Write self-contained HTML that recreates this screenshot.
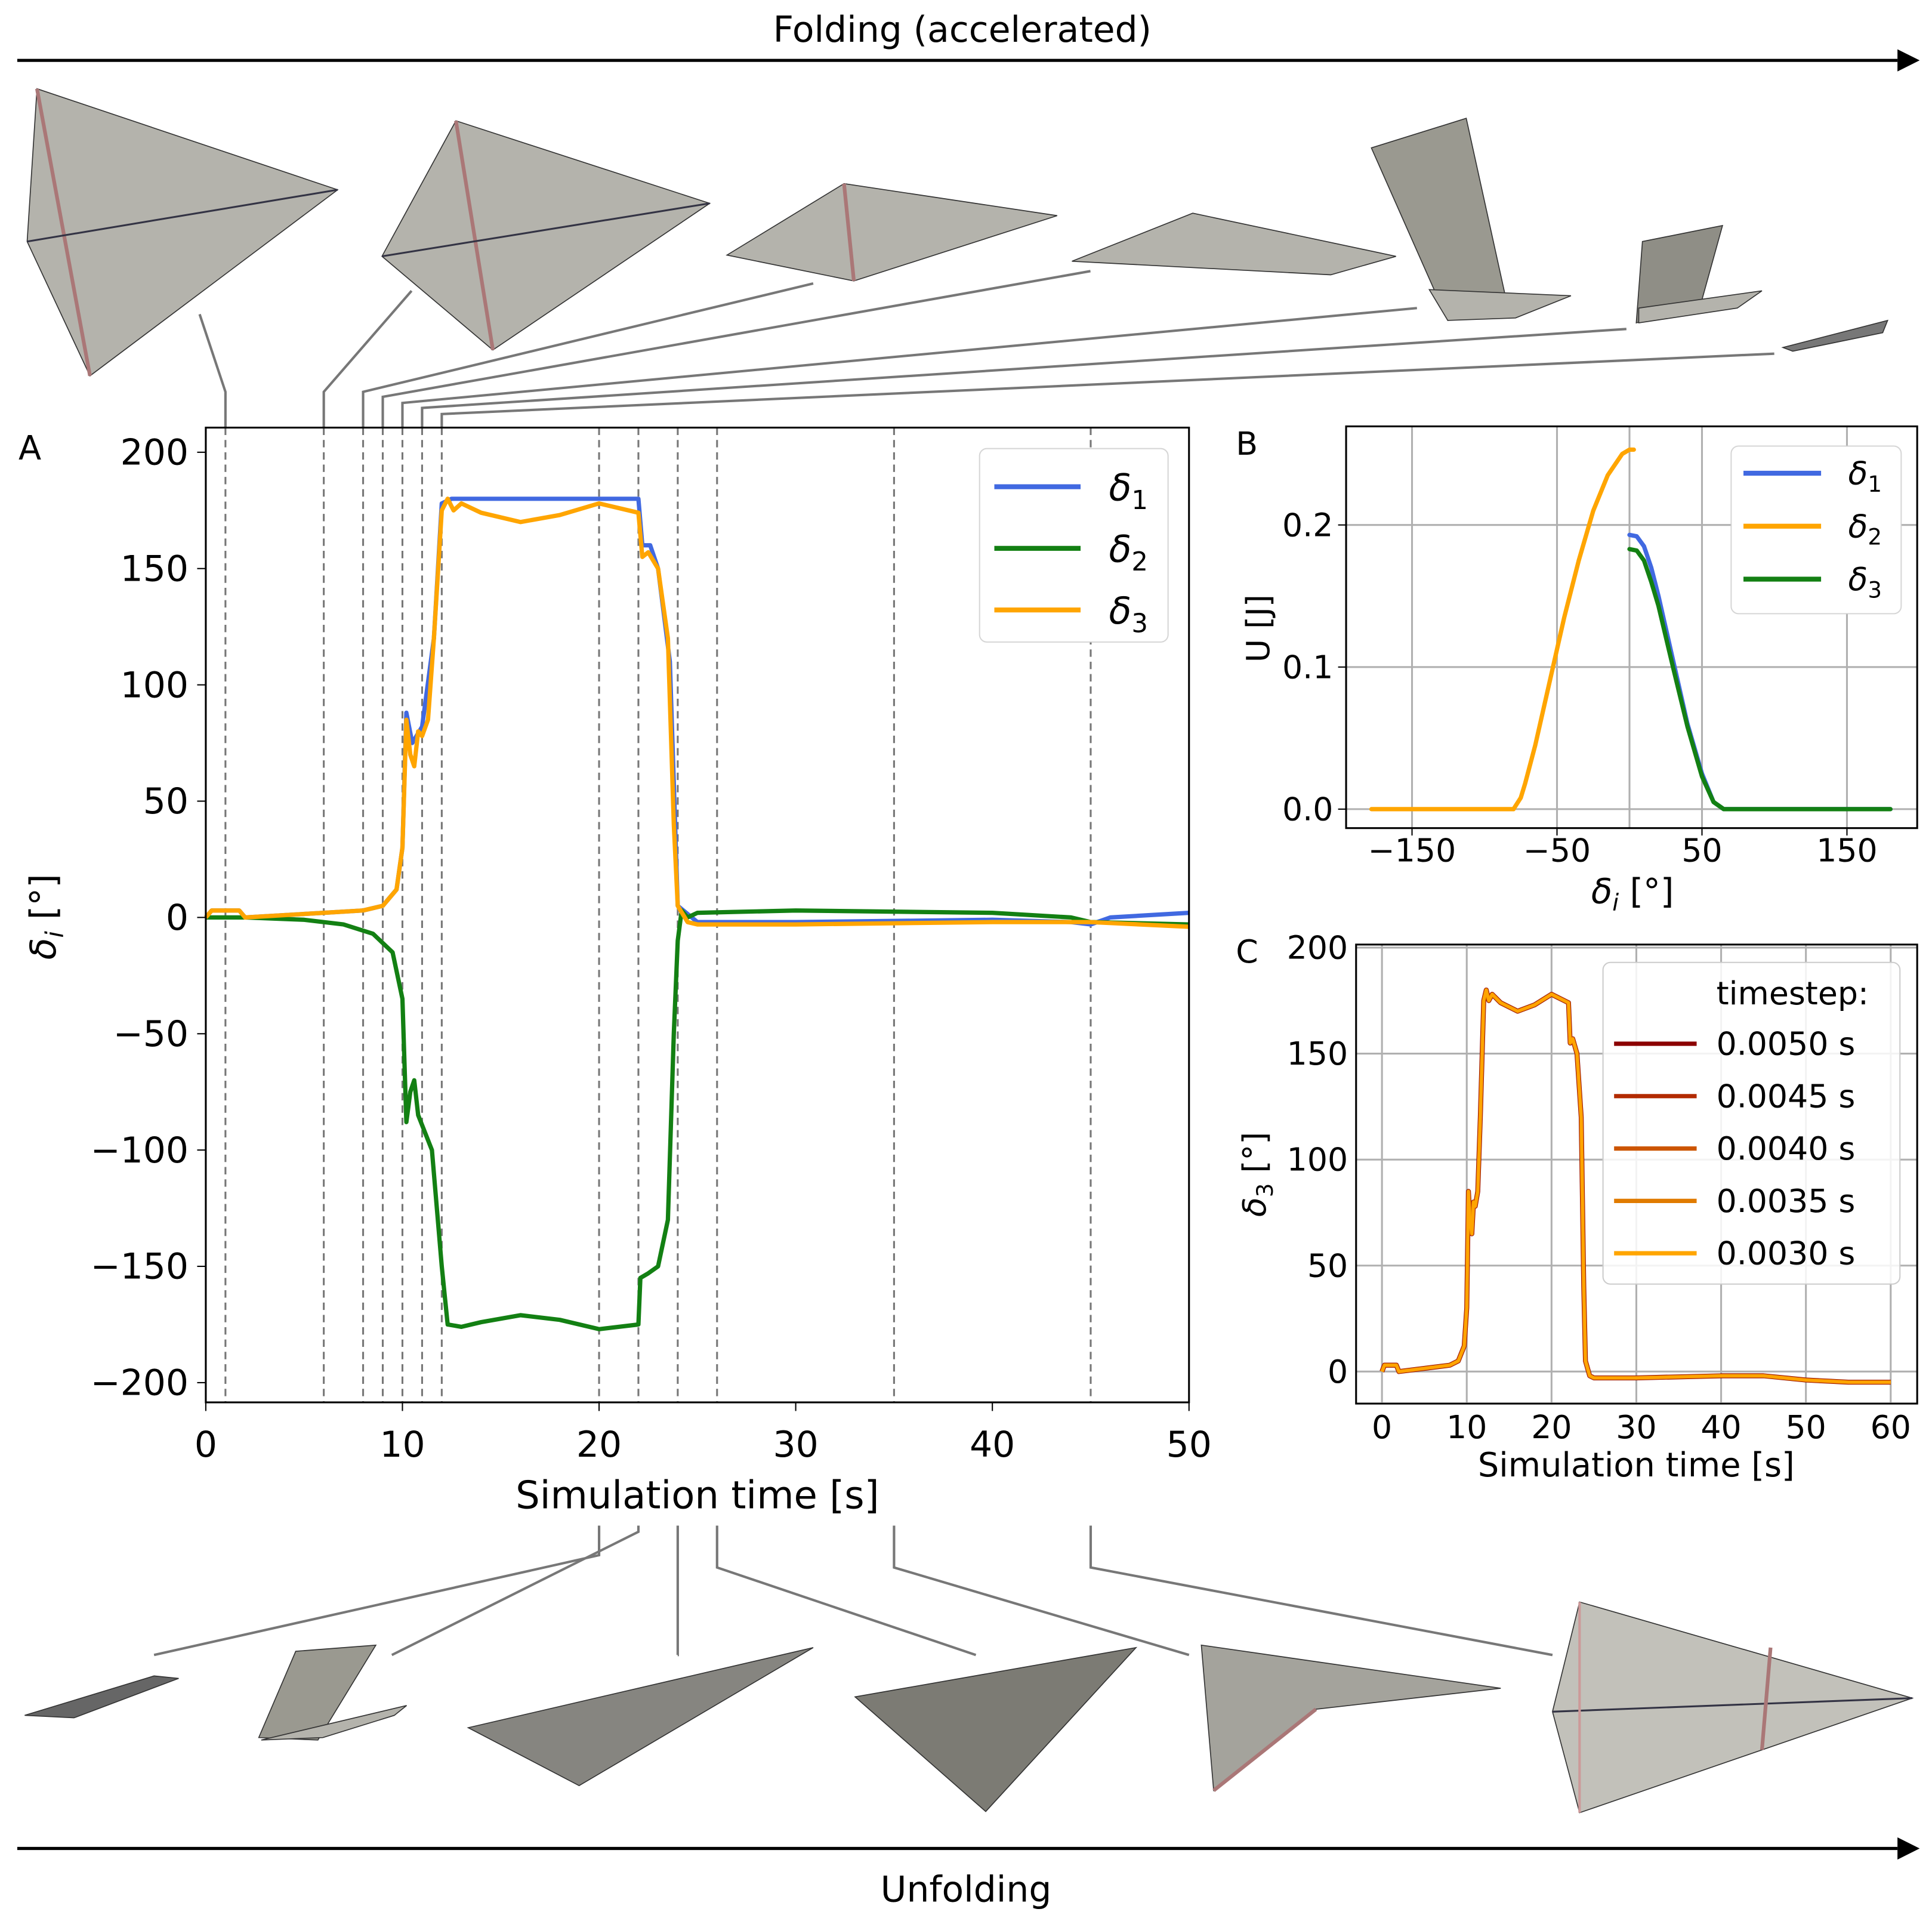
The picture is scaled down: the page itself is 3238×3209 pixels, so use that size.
<!DOCTYPE html>
<html><head><meta charset="utf-8"><style>
html,body{margin:0;padding:0;background:#fff;}
svg{display:block;font-family:"DejaVu Sans","Liberation Sans",sans-serif;}
</style></head><body>
<svg id="fig" width="3238" height="3209" viewBox="0 0 1568 1554" xmlns="http://www.w3.org/2000/svg">
<g>
<line x1="14" y1="49" x2="1540" y2="49" stroke="#000" stroke-width="2.5"/>
<polygon points="1540,40 1558,49 1540,58" fill="#000"/>
<text x="781" y="34" font-size="29" text-anchor="middle">Folding (accelerated)</text>
</g>
<g>
<line x1="14" y1="1500" x2="1540" y2="1500" stroke="#000" stroke-width="2.5"/>
<polygon points="1540,1491 1558,1500 1540,1509" fill="#000"/>
<text x="784" y="1543" font-size="29" text-anchor="middle">Unfolding</text>
</g>
<g id="illus" fill="#b4b3ac" stroke="#333" stroke-width="0.8">
<polygon points="30,72 274,154 73,305 22,196"/>
<line x1="30" y1="72" x2="73" y2="305" stroke="#a77" stroke-width="3"/>
<line x1="22" y1="196" x2="274" y2="154" stroke="#334" stroke-width="1.5"/>
<polygon points="370,98 576,165 400,284 310,208"/>
<line x1="370" y1="98" x2="400" y2="284" stroke="#a77" stroke-width="3"/>
<line x1="310" y1="208" x2="576" y2="165" stroke="#334" stroke-width="1.5"/>
<polygon points="685,149 858,175 693,228 590,207"/>
<line x1="685" y1="149" x2="693" y2="228" stroke="#a77" stroke-width="3"/>
<polygon points="968,173 1133,208 1080,223 870,212"/>
<polygon points="1113,120 1190,96 1225,255 1175,260" fill="#9a9990"/>
<polygon points="1160,235 1275,240 1230,258 1175,260"/>
<polygon points="1333,196 1398,183 1380,248 1328,262" fill="#8f8e86"/>
<polygon points="1330,250 1430,236 1410,250 1330,262"/>
<polygon points="1447,282 1532,260 1528,270 1455,285" fill="#777"/>
<polygon points="20,1392 125,1360 145,1362 60,1394" fill="#666"/>
<polygon points="210,1410 240,1340 305,1335 258,1412" fill="#9a9990"/>
<polygon points="212,1412 330,1384 320,1392 262,1410"/>
<polygon points="380,1402 660,1337 470,1449" fill="#868580"/>
<polygon points="694,1377 922,1337 800,1470" fill="#7c7b74"/>
<polygon points="975,1335 1218,1370 1068,1387 985,1453" fill="#a4a39c"/>
<line x1="985" y1="1453" x2="1068" y2="1387" stroke="#a77" stroke-width="3"/>
<polygon points="1282,1300 1552,1378 1282,1471 1260,1389" fill="#c2c1ba"/>
<line x1="1260" y1="1389" x2="1552" y2="1378" stroke="#334" stroke-width="1.5"/>
<line x1="1282" y1="1300" x2="1282" y2="1471" stroke="#c99" stroke-width="2"/>
<line x1="1437" y1="1337" x2="1430" y2="1420" stroke="#a77" stroke-width="3"/>
</g>
<g id="connectors" fill="none" stroke="#777" stroke-width="2"></g>
<g id="panelA"></g>
<g id="panelB"></g>
<g id="panelC"></g>
</svg>
<script>
// ---- Panel A data ----
const tA1 = [0,0.3,1.7,2,6,8,9,9.7,10,10.2,10.5,11,11.6,12,12.5,14,20,22,22.2,22.6,23,23.6,24,25,30,40,44,45,46,50];
const d1  = [0,3,3,0,2,3,5,12,30,88,75,82,120,178,180,180,180,180,160,160,150,110,5,-2,-2,-1,-2,-3,0,2];
const tA2 = [0,2,5,7,8.5,9.5,10,10.2,10.4,10.6,10.8,11.5,12,12.3,13,14,16,18,20,22,22.1,22.5,23,23.5,23.8,24,24.2,24.5,25,30,40,44,45,50];
const d2  = [0,0,-1,-3,-7,-15,-35,-88,-75,-70,-85,-100,-150,-175,-176,-174,-171,-173,-177,-175,-155,-153,-150,-130,-50,-10,3,0,2,3,2,0,-2,-3];
const tA3 = [0,0.3,1.7,2,6,8,9,9.7,10,10.2,10.4,10.6,10.8,11,11.3,11.6,12,12.3,12.6,13,14,16,18,20,22,22.2,22.5,23,23.5,23.8,24,24.5,25,30,40,45,50];
const d3  = [0,3,3,0,2,3,5,12,30,85,70,65,80,78,85,120,175,180,175,178,174,170,173,178,174,155,157,150,120,40,5,-2,-3,-3,-2,-2,-4];
const dashT = [1,6,8,9,10,11,12,20,22,24,26,35,45];
const aXTicks = [0,10,20,30,40,50];
const aYTicks = [200,150,100,50,0,-50,-100,-150,-200];
// ---- Panel B data ----
const bOrX = [-178,-80,-75,-72,-65,-55,-45,-35,-25,-15,-5,0,3];
const bOrY = [0,0,0.008,0.018,0.045,0.09,0.135,0.175,0.21,0.235,0.25,0.253,0.253];
const bBlX = [0,5,10,15,20,30,40,50,58,65,180];
const bBlY = [0.193,0.192,0.185,0.17,0.15,0.105,0.06,0.025,0.005,0,0];
const bGrX = [0,5,10,15,20,30,40,50,58,65,180];
const bGrY = [0.183,0.182,0.175,0.16,0.143,0.1,0.058,0.023,0.005,0,0];
const bXTicks = [-150,-50,50,150];
const bXGrid = [-150,-50,0,50,150];
const bYTicks = [0,0.1,0.2];
// ---- Panel C data ----
const cT = [0,0.3,1.7,2,6,8,9,9.7,10,10.2,10.4,10.6,10.8,11,11.3,11.6,12,12.3,12.6,13,14,16,18,20,22,22.2,22.5,23,23.5,23.8,24,24.5,25,30,40,45,50,55,60];
const cD = [0,3,3,0,2,3,5,12,30,85,70,65,80,78,85,120,175,180,175,178,174,170,173,178,174,155,157,150,120,40,5,-2,-3,-3,-2,-2,-4,-5,-5];
const cSteps = ["0.0050 s","0.0045 s","0.0040 s","0.0035 s","0.0030 s"];
const cXTicks = [0,10,20,30,40,50,60];
const cYTicks = [0,50,100,150,200];

const NS="http://www.w3.org/2000/svg";
function mk(parent,tag,attrs,text){const e=document.createElementNS(NS,tag);for(const k in attrs)e.setAttribute(k,attrs[k]);if(text!==undefined)e.textContent=text;parent.appendChild(e);return e;}
function pathOf(xs,ys,fx,fy){return xs.map((x,i)=>(i?'L':'M')+fx(x).toFixed(2)+','+fy(ys[i]).toFixed(2)).join(' ');}

// Panel A
const A=document.getElementById('panelA');
const ax=t=>167+t*(965-167)/50, ay=v=>744.5-v*(1122-367)/400;
for(const t of dashT){const l=mk(A,'line',{x1:ax(t),x2:ax(t),y1:347,y2:1138,stroke:'#777','stroke-width':1.5,'stroke-dasharray':'6,4'});

}
const sA=[[tA1,d1,'#4169e1','delta-1-line'],[tA2,d2,'#138013','delta-2-line'],[tA3,d3,'#ffa500','delta-3-line']];
for(const [xs,ys,c,n] of sA){const p=mk(A,'path',{d:pathOf(xs,ys,ax,ay),fill:'none',stroke:c,'stroke-width':3.5,'stroke-linejoin':'round'});

}
mk(A,'rect',{x:167,y:347,width:798,height:791,fill:'none',stroke:'#000','stroke-width':1.5});
for(const t of aXTicks){mk(A,'line',{x1:ax(t),x2:ax(t),y1:1138,y2:1145,stroke:'#000'});const tx=mk(A,'text',{x:ax(t),y:1182,'font-size':29,'text-anchor':'middle'},String(t));

}
for(const v of aYTicks){mk(A,'line',{x1:160,x2:167,y1:ay(v),y2:ay(v),stroke:'#000'});const tx=mk(A,'text',{x:153,y:ay(v)+10,'font-size':29,'text-anchor':'end'},String(v).replace('-','\u2212'));

}
mk(A,'text',{x:566,y:1224,'font-size':31,'text-anchor':'middle',},'Simulation time [s]');
const yt=mk(A,'text',{transform:'translate(45,744) rotate(-90)','font-size':29,'text-anchor':'middle',});
yt.innerHTML='<tspan font-style="italic">δ</tspan><tspan font-size="20" dy="6" font-style="italic">i</tspan><tspan dy="-6"> [°]</tspan>';
mk(A,'text',{x:15,y:373,'font-size':27,},'A');
const legA=mk(A,'g',{});
mk(legA,'rect',{x:795,y:364,width:153,height:157,rx:6,fill:'#fff',stroke:'#ccc','stroke-opacity':0.8});
[['#4169e1','1'],['#138013','2'],['#ffa500','3']].forEach((e,i)=>{const y=395+i*50;mk(legA,'line',{x1:807,x2:877,y1:y,y2:y,stroke:e[0],'stroke-width':4});const tt=mk(legA,'text',{x:900,y:y+11,'font-size':30,'font-style':'italic',});tt.innerHTML='δ<tspan font-size="21" dy="7" font-style="normal">'+e[1]+'</tspan>';});

// Panel B
const B=document.getElementById('panelB');
const bx=v=>1322.5+v*(1499-1146)/300, by=v=>656.6-v*(656.6-426)/0.2;
for(const v of bXGrid){mk(B,'line',{x1:bx(v),x2:bx(v),y1:346,y2:672,stroke:'#b0b0b0','stroke-width':1.5});}
for(const v of bYTicks){mk(B,'line',{x1:1092.5,x2:1556,y1:by(v),y2:by(v),stroke:'#b0b0b0','stroke-width':1.5});}
[[bOrX,bOrY,'#ffa500','u-delta-2-line'],[bBlX,bBlY,'#4169e1','u-delta-1-line'],[bGrX,bGrY,'#138013','u-delta-3-line']].forEach(([xs,ys,c,n])=>{const p=mk(B,'path',{d:pathOf(xs,ys,bx,by),fill:'none',stroke:c,'stroke-width':3.5,'stroke-linejoin':'round','stroke-linecap':'round'});

});
mk(B,'rect',{x:1092.5,y:346,width:463.5,height:326,fill:'none',stroke:'#000','stroke-width':1.5});
for(const v of bXTicks){mk(B,'line',{x1:bx(v),x2:bx(v),y1:672,y2:678,stroke:'#000'});mk(B,'text',{x:bx(v),y:699,'font-size':26,'text-anchor':'middle',},String(v).replace('-','\u2212'));}
for(const v of bYTicks){mk(B,'line',{x1:1086,x2:1092.5,y1:by(v),y2:by(v),stroke:'#000'});mk(B,'text',{x:1082,y:by(v)+9,'font-size':26,'text-anchor':'end',},v.toFixed(1));}
const bxt=mk(B,'text',{x:1325,y:733,'font-size':28,'text-anchor':'middle',});
bxt.innerHTML='<tspan font-style="italic">δ</tspan><tspan font-size="19" dy="6" font-style="italic">i</tspan><tspan dy="-6"> [°]</tspan>';
mk(B,'text',{transform:'translate(1030,510) rotate(-90)','font-size':26,'text-anchor':'middle',},'U [J]');
mk(B,'text',{x:1003,y:369,'font-size':26,},'B');
const legB=mk(B,'g',{});
mk(legB,'rect',{x:1405,y:362,width:138,height:136,rx:6,fill:'#fff',stroke:'#ccc','stroke-opacity':0.8});
[['#4169e1','1'],['#ffa500','2'],['#138013','3']].forEach((e,i)=>{const y=384+i*43;mk(legB,'line',{x1:1415,x2:1478,y1:y,y2:y,stroke:e[0],'stroke-width':4});const tt=mk(legB,'text',{x:1500,y:y+9,'font-size':26,'font-style':'italic',});tt.innerHTML='δ<tspan font-size="18" dy="6" font-style="normal">'+e[1]+'</tspan>';});

// Panel C
const C=document.getElementById('panelC');
const cx=t=>1121.6+t*(1534.5-1121.6)/60, cy=v=>1113-v*(1113-769)/200;
for(const t of cXTicks){mk(C,'line',{x1:cx(t),x2:cx(t),y1:767,y2:1138,stroke:'#b0b0b0','stroke-width':1.5});}
for(const v of cYTicks){mk(C,'line',{x1:1100.6,x2:1556,y1:cy(v),y2:cy(v),stroke:'#b0b0b0','stroke-width':1.5});}
const cCols=['#8b0000','#b22a00','#cc5500','#e07b00','#ffa500'];
cCols.forEach((c,i)=>{const p=mk(C,'path',{d:pathOf(cT,cD,cx,cy),fill:'none',stroke:c,'stroke-width':4-i*0.4,'stroke-linejoin':'round'});

});
mk(C,'rect',{x:1100.6,y:766.5,width:455.4,height:372.5,fill:'none',stroke:'#000','stroke-width':1.5});
for(const t of cXTicks){mk(C,'text',{x:cx(t),y:1167,'font-size':26,'text-anchor':'middle',},String(t));}
for(const v of cYTicks){mk(C,'text',{x:1094,y:cy(v)+9,'font-size':26,'text-anchor':'end',},String(v));}
mk(C,'text',{x:1328,y:1198,'font-size':27,'text-anchor':'middle',},'Simulation time [s]');
const cyt=mk(C,'text',{transform:'translate(1027,953) rotate(-90)','font-size':26,'text-anchor':'middle',});
cyt.innerHTML='<tspan font-style="italic">δ</tspan><tspan font-size="18" dy="6">3</tspan><tspan dy="-6"> [°]</tspan>';
mk(C,'text',{x:1003,y:781,'font-size':26,},'C');
const legC=mk(C,'g',{});
mk(legC,'rect',{x:1301,y:781,width:241,height:261,rx:6,fill:'#fff','fill-opacity':0.85,stroke:'#ccc'});
mk(legC,'text',{x:1393,y:815,'font-size':26},'timestep:');
cSteps.forEach((s,i)=>{const y=847+i*42.5;mk(legC,'line',{x1:1310,x2:1377,y1:y,y2:y,stroke:cCols[i],'stroke-width':3.5});const tt=mk(legC,'text',{x:1393,y:y+9,'font-size':26},s);

});

// Connectors
const G=document.getElementById('connectors');
const conTop=[[1,318,162,255],[6,318,334,236],[8,318,660,230],[9,322,885,220],[10,327,1150,250],[11,331,1320,267],[12,336,1440,287]];
for(const [t,yb,x2,y2] of conTop){const x=ax(t);const p=mk(G,'polyline',{points:`${x},347 ${x},${yb} ${x2},${y2}`});

}
const conBot=[[20,1262,125,1343],[22,1243,318,1343],[24,1343,550,1343],[26,1272,792,1343],[35,1272,965,1343],[45,1272,1260,1343]];
for(const [t,yb,x2,y2] of conBot){const x=ax(t);const p=mk(G,'polyline',{points:`${x},1238 ${x},${yb} ${x2},${y2}`});

}
</script>
</body></html>
